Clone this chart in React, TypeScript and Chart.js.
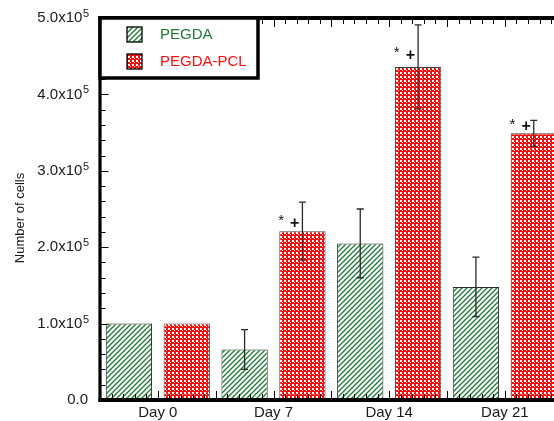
import React, { useEffect, useRef } from "react";
import { Chart, registerables } from "chart.js";

Chart.register(...registerables);

// ---------- data ----------
const categories = ["Day 0", "Day 7", "Day 14", "Day 21"];
const seriesNames = ["PEGDA", "PEGDA-PCL"];
const pegdaValues = [1.0e5, 0.66e5, 2.05e5, 1.48e5];
const pegdaErrors = [0, 0.26e5, 0.45e5, 0.39e5];
const pclValues = [1.0e5, 2.21e5, 4.36e5, 3.49e5];
const pclErrors = [0, 0.38e5, 0.55e5, 0.17e5];
// significance marks above PEGDA-PCL bars ("*" and "+")
const pclMarkValues = [null, 2.33e5, 4.53e5, 3.59e5];
const markStar = "*";
const markPlus = "+";
const yTickValues = [0, 1e5, 2e5, 3e5, 4e5, 5e5];
const yTickMantissas = ["0.0", "1.0", "2.0", "3.0", "4.0", "5.0"];
const yTickPower = "5";
const yAxisTitle = "Number of cells";

// ---------- style ----------
const FONT = '"Liberation Sans", Arial, sans-serif';
const GREEN_TEXT = "#237a36";
const GREEN_HATCH = "#1c7a33";
const RED = "#ff0d0d";
const X_MIN = -0.5;
const X_MAX = 3.425;
const Y_MAX = 5e5;

function makeGreenPattern(ctx: CanvasRenderingContext2D) {
  const s = 5;
  const c = document.createElement("canvas");
  c.width = s;
  c.height = s;
  const g = c.getContext("2d")!;
  g.fillStyle = "#ffffff";
  g.fillRect(0, 0, s, s);
  g.strokeStyle = GREEN_HATCH;
  g.lineWidth = 1.3;
  g.beginPath();
  g.moveTo(-1, s + 1);
  g.lineTo(s + 1, -1);
  g.moveTo(-1, 1);
  g.lineTo(1, -1);
  g.moveTo(s - 1, s + 1);
  g.lineTo(s + 1, s - 1);
  g.stroke();
  return ctx.createPattern(c, "repeat")!;
}

function makeRedPattern(ctx: CanvasRenderingContext2D) {
  const s = 4;
  const c = document.createElement("canvas");
  c.width = s;
  c.height = s;
  const g = c.getContext("2d")!;
  g.fillStyle = RED;
  g.fillRect(0, 0, s, s);
  g.fillStyle = "#ffffff";
  g.fillRect(0, 0, 2, 2);
  g.fillStyle = "#ffd0d0";
  g.fillRect(2, 2, 1, 1);
  return ctx.createPattern(c, "repeat")!;
}

const decorPlugin = {
  id: "decor",
  afterDatasetsDraw(chart: any) {
    const ctx: CanvasRenderingContext2D = chart.ctx;
    const y = chart.scales.y;
    const errs = [pegdaErrors, pclErrors];
    const vals = [pegdaValues, pclValues];
    ctx.save();
    ctx.strokeStyle = "#2a2a2a";
    ctx.lineWidth = 1.3;
    [0, 1].forEach((di) => {
      const meta = chart.getDatasetMeta(di);
      meta.data.forEach((bar: any, i: number) => {
        const e = errs[di][i];
        if (!e) return;
        const v = vals[di][i];
        const yt = y.getPixelForValue(v + e);
        const yb = y.getPixelForValue(v - e);
        const cx = bar.x;
        ctx.beginPath();
        ctx.moveTo(cx, yt);
        ctx.lineTo(cx, yb);
        ctx.moveTo(cx - 3.5, yt);
        ctx.lineTo(cx + 3.5, yt);
        ctx.moveTo(cx - 3.5, yb);
        ctx.lineTo(cx + 3.5, yb);
        ctx.stroke();
      });
    });
    // significance marks
    const meta1 = chart.getDatasetMeta(1);
    ctx.fillStyle = "#111";
    ctx.textAlign = "center";
    ctx.textBaseline = "alphabetic";
    meta1.data.forEach((bar: any, i: number) => {
      const mv = pclMarkValues[i];
      if (mv == null) return;
      const py = y.getPixelForValue(mv);
      const left = bar.x - bar.width / 2;
      ctx.font = `15px ${FONT}`;
      ctx.fillText(markStar, left + 1.8, py + 3);
      ctx.font = `bold 16px ${FONT}`;
      ctx.fillText(markPlus, left + 15.5, py + 5.6);
    });
    ctx.restore();
  },
  afterDraw(chart: any) {
    const ctx: CanvasRenderingContext2D = chart.ctx;
    const ca = chart.chartArea;
    const x = chart.scales.x;
    const y = chart.scales.y;
    ctx.save();
    ctx.strokeStyle = "#000";
    // ticks on top and bottom axes
    ctx.lineWidth = 1;
    for (let k = 1; ; k++) {
      const v = X_MIN + k * 0.1;
      if (v > X_MAX) break;
      const px = Math.round(x.getPixelForValue(v)) + 0.5;
      const len = k % 5 === 0 ? 7 : 4;
      ctx.beginPath();
      ctx.moveTo(px, ca.top);
      ctx.lineTo(px, ca.top + 2 + len);
      ctx.moveTo(px, ca.bottom);
      ctx.lineTo(px, ca.bottom - 2 - len);
      ctx.stroke();
    }
    // ticks on left axis
    for (let v = 2e4; v < Y_MAX; v += 2e4) {
      const py = Math.round(y.getPixelForValue(v)) + 0.5;
      const major = Math.abs(v % 1e5) < 1 || Math.abs((v % 1e5) - 1e5) < 1;
      const len = major ? 7 : 4;
      ctx.beginPath();
      ctx.moveTo(ca.left, py);
      ctx.lineTo(ca.left + 1.5 + len, py);
      ctx.stroke();
    }
    // spines
    ctx.lineWidth = 3.2;
    ctx.beginPath();
    ctx.moveTo(ca.left, ca.top - 2);
    ctx.lineTo(ca.left, ca.bottom + 2);
    ctx.stroke();
    ctx.lineWidth = 4;
    ctx.beginPath();
    ctx.moveTo(ca.left - 1.6, ca.top);
    ctx.lineTo(ca.right + 5, ca.top);
    ctx.moveTo(ca.left - 1.6, ca.bottom);
    ctx.lineTo(ca.right + 5, ca.bottom);
    ctx.stroke();

    // y tick labels with superscript
    ctx.fillStyle = "#1a1a1a";
    const rightEdge = ca.left - 11;
    yTickValues.forEach((v, i) => {
      const py = y.getPixelForValue(v);
      if (v === 0) {
        ctx.font = `15px ${FONT}`;
        ctx.textAlign = "right";
        ctx.textBaseline = "middle";
        ctx.fillText(yTickMantissas[i], rightEdge - 1, py);
        return;
      }
      const base = `${yTickMantissas[i]}x10`;
      ctx.font = `15px ${FONT}`;
      const wb = ctx.measureText(base).width;
      ctx.font = `11px ${FONT}`;
      const ws = ctx.measureText(yTickPower).width;
      const start = rightEdge - wb - ws - 0.5;
      ctx.textAlign = "left";
      ctx.font = `15px ${FONT}`;
      ctx.textBaseline = "middle";
      ctx.fillText(base, start, py);
      ctx.font = `11px ${FONT}`;
      ctx.textBaseline = "alphabetic";
      ctx.fillText(yTickPower, start + wb + 0.5, py - 1);
    });

    // x category labels
    ctx.font = `15px ${FONT}`;
    ctx.textAlign = "center";
    ctx.textBaseline = "middle";
    categories.forEach((c, i) => {
      ctx.fillText(c, x.getPixelForValue(i), ca.bottom + 13);
    });

    // y axis title
    ctx.save();
    ctx.translate(20, (ca.top + ca.bottom) / 2 + 9);
    ctx.rotate(-Math.PI / 2);
    ctx.font = `13px ${FONT}`;
    ctx.textAlign = "center";
    ctx.textBaseline = "middle";
    ctx.fillText(yAxisTitle, 0, 0);
    ctx.restore();

    // legend box
    const lx = ca.left;
    const ly = ca.top;
    const lw = 158;
    const lh = 60;
    ctx.fillStyle = "#ffffff";
    ctx.fillRect(lx, ly, lw, lh);
    ctx.lineWidth = 3.5;
    ctx.strokeStyle = "#000";
    ctx.strokeRect(lx, ly, lw, lh);
    const fills = [chart.data.datasets[0].backgroundColor, chart.data.datasets[1].backgroundColor];
    const textColors = [GREEN_TEXT, RED];
    seriesNames.forEach((name, i) => {
      const sy = ly + 9 + i * 27;
      ctx.fillStyle = fills[i];
      ctx.fillRect(lx + 27, sy, 15, 15);
      ctx.lineWidth = 1.3;
      ctx.strokeStyle = "#000";
      ctx.strokeRect(lx + 27, sy, 15, 15);
      ctx.fillStyle = textColors[i];
      ctx.font = `15px ${FONT}`;
      ctx.textAlign = "left";
      ctx.textBaseline = "middle";
      ctx.fillText(name, lx + 60, sy + 7.5);
    });
    ctx.restore();
  },
};

export default function App() {
  const ref = useRef<HTMLCanvasElement | null>(null);
  useEffect(() => {
    const canvas = ref.current!;
    const ctx = canvas.getContext("2d")!;
    const greenPat = makeGreenPattern(ctx);
    const redPat = makeRedPattern(ctx);
    const chart = new Chart(canvas, {
      type: "bar",
      data: {
        datasets: [
          {
            label: seriesNames[0],
            data: pegdaValues.map((v, i) => ({ x: i, y: v })),
            backgroundColor: greenPat as any,
            borderColor: "#2a2a2a",
            borderWidth: 1,
            categoryPercentage: 1,
            barPercentage: 0.8,
          },
          {
            label: seriesNames[1],
            data: pclValues.map((v, i) => ({ x: i, y: v })),
            backgroundColor: redPat as any,
            borderColor: "#444",
            borderWidth: 1,
            categoryPercentage: 1,
            barPercentage: 0.8,
          },
        ],
      },
      options: {
        animation: false,
        responsive: false,
        maintainAspectRatio: false,
        layout: { padding: { left: 100, top: 18, right: 0, bottom: 21 } },
        plugins: { legend: { display: false }, tooltip: { enabled: false } },
        scales: {
          x: {
            type: "linear",
            display: false,
            offset: false,
            min: X_MIN,
            max: X_MAX,
            afterBuildTicks: (s: any) => {
              s.ticks = categories.map((_, i) => ({ value: i }));
            },
          },
          y: { type: "linear", display: false, min: 0, max: Y_MAX },
        },
      },
      plugins: [decorPlugin as any],
    });
    return () => chart.destroy();
  }, []);
  return (
    <div style={{ position: "fixed", left: 0, top: 0, width: 554, height: 421, overflow: "hidden", background: "#fff" }}>
      <canvas ref={ref} width={554} height={421} style={{ display: "block" }} />
    </div>
  );
}
